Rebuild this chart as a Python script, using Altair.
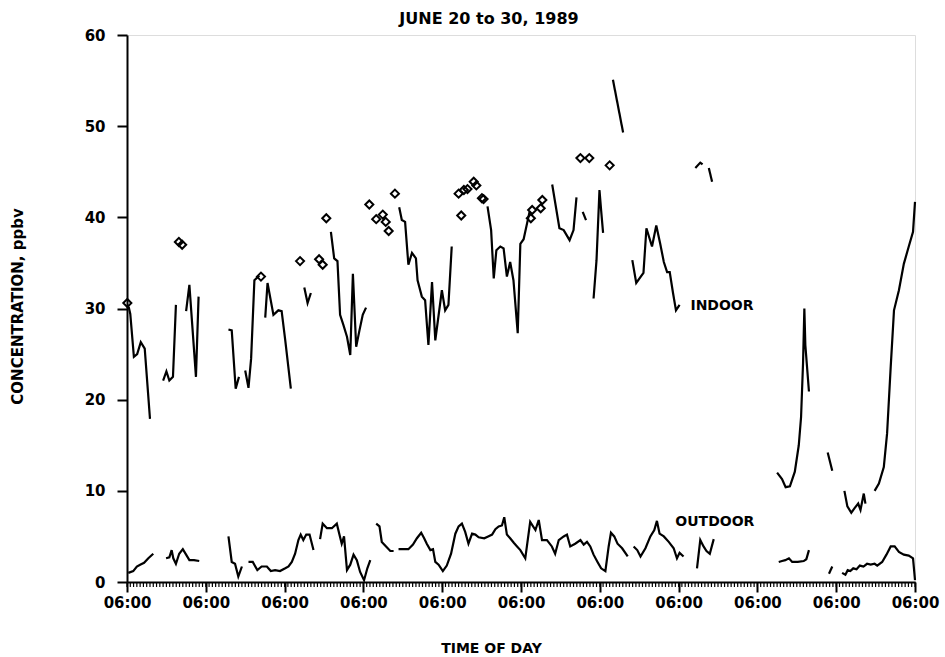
import altair as alt
import pandas as pd

# Hours after 06:00 on June 20, 1989; None marks a gap in the record
indoor_hours = [
    0.5, 1.0, 2.1, 3.1, 4.2, 5.4, 7.0, None,
    11.0, 12.0, 12.9, 14.0, 14.9, None,
    18.0, 19.0, 21.0, 21.8, None,
    30.9, 31.9, 33.1, 34.1, None,
    36.0, 37.0, 37.8, 38.8, 40.3, None,
    42.1, 42.8, 44.6, 46.1, 47.1, 48.2, 49.9, None,
    54.0, 55.0, 56.0, None,
    62.1, 63.1, 64.1, 64.9, 65.9, 67.0, 68.0, 68.8, 69.8, 70.8, 71.8, 72.8, None,
    82.9, 83.7, 84.7, 85.7, 86.8, 88.0, 88.5, 89.8, 90.8, 91.8, 92.9, 93.9, 95.9, 96.9, 97.9, 98.9, None,
    109.8, 110.9, 111.7, 112.5, 113.7, 114.7, 115.7, 116.7, 117.7, 119.0, 119.8, 120.8, 122.6, None,
    129.5, 131.7, 133.0, 134.8, 136.0, 136.9, None,
    138.8, 139.8, None,
    142.1, 143.0, 143.9, 144.4, 145.0, None,
    148.0, 151.1, None,
    153.9, 155.1, 157.3, 158.2, 159.9, 161.2, 162.4, 163.5, 164.5, 165.3, 166.3, 167.2, 168.3, None,
    173.1, 174.6, 175.3, None,
    177.2, 178.2, None,
    198.0, 199.5, 200.6, 201.9, 203.4, 204.6, 205.3, 205.9, 206.3, 206.6, 207.7, None,
    213.4, 214.8, None,
    218.5, 219.4, 220.6, 221.6, 222.7, 223.4, 224.4, 224.9, None,
    227.7, 229.0, 230.5, 231.5, 232.6, 233.6, 235.1, 236.6, 238.1, 239.4, 240.0,
]
indoor_ppbv = [
    30.2, 29.4, 24.7, 25.0, 26.3, 25.6, 17.9, None,
    22.1, 23.1, 22.1, 22.5, 30.4, None,
    29.7, 32.6, 22.5, 31.3, None,
    27.7, 27.6, 21.2, 22.5, None,
    23.2, 21.3, 24.5, 33.1, 33.6, None,
    29.0, 32.8, 29.3, 29.8, 29.7, 26.5, 21.2, None,
    32.3, 30.6, 31.7, None,
    38.4, 35.5, 35.2, 29.3, 28.2, 26.9, 24.9, 33.8, 25.8, 27.6, 29.3, 30.1, None,
    41.1, 39.7, 39.5, 34.8, 36.1, 35.5, 33.1, 31.3, 30.9, 26.0, 32.9, 26.5, 32.0, 29.8, 30.4, 36.8, None,
    41.2, 38.6, 33.3, 36.4, 36.8, 36.6, 33.5, 35.1, 33.1, 27.3, 37.1, 37.6, 40.6, None,
    43.6, 38.8, 38.6, 37.5, 38.6, 42.2, None,
    40.6, 39.7, None,
    31.1, 35.3, 43.0, 40.8, 38.3, None,
    55.1, 49.3, None,
    35.3, 32.8, 33.9, 38.8, 36.8, 39.1, 37.1, 35.1, 34.0, 34.0, 31.7, 29.8, 30.4, None,
    45.4, 46.0, 45.8, None,
    45.4, 43.9, None,
    12.0, 11.3, 10.4, 10.5, 12.1, 15.0, 18.1, 24.0, 30.0, 26.0, 20.9, None,
    14.2, 12.2, None,
    10.0, 8.3, 7.6, 8.1, 8.6, 7.9, 9.7, 8.6, None,
    10.0, 10.8, 12.6, 16.3, 23.6, 29.8, 32.0, 34.9, 36.8, 38.4, 41.7,
]

outdoor_hours = [
    0.4, 1.9, 3.0, 4.0, 5.2, 6.5, 8.0, None,
    11.9, 12.9, 13.6, 14.1, 14.9, 15.9, 17.0, 18.0, 19.0, 20.4, 22.0, None,
    30.9, 31.9, 32.9, 33.9, 35.0, None,
    37.0, 38.3, 39.7, 41.0, 42.6, 43.8, 45.1, 46.6, 48.2, 49.2, 50.2, 51.2, 52.2, 52.9, 53.7, 54.6, 55.6, 56.8, None,
    58.8, 59.6, 60.9, 62.4, 63.9, 64.7, 65.4, 66.1, 67.0, 68.0, 69.0, 70.0, 71.0, 72.2, 73.2, 74.1, None,
    75.9, 76.9, 77.6, 78.9, 80.2, 81.2, None,
    82.7, 84.2, 85.7, 87.1, 88.3, 89.6, 90.5, 91.3, 92.4, 93.2, 93.9, 94.9, 96.2, 97.4, 98.7,
    100.0, 101.0, 102.0, 103.0, 104.0, 105.1, 106.1, 107.1, 108.8, 110.0, 111.2, 112.2, 113.2,
    114.2, 114.9, 115.7, 116.7, 117.8, 118.8, 119.8, 121.3, 122.8, 124.4, 125.4, 126.4, 127.9,
    129.4, 130.4, 131.5, 133.0, 134.0, 135.0, 136.5, 138.1, 139.1, 140.1, 141.1, 142.1, 143.3,
    144.4, 145.7, 146.7, 147.4, 148.4, 149.4, 150.8, 152.5, None,
    154.3, 155.4, 156.4, 157.9, 159.4, 160.6, 161.4, 162.2, 163.5, 165.0, 166.5, 167.5, 168.3, 169.5, None,
    173.6, 174.6, 175.6, 176.5, 177.5, 178.7, None,
    198.5, 199.5, 200.5, 201.6, 202.6, 204.3, 206.1, 206.9, 207.7, None,
    213.8, 214.8, None,
    217.8, 218.8, 219.5, 220.3, 221.2, 222.2, 223.2, 224.3, 225.4, 226.5, 227.7, 228.5, 230.0,
    231.3, 232.6, 233.8, 235.1, 236.6, 238.1, 239.4, 240.0,
]
outdoor_ppbv = [
    1.0, 1.2, 1.7, 1.9, 2.1, 2.6, 3.1, None,
    2.6, 2.7, 3.5, 2.6, 2.0, 3.1, 3.6, 3.0, 2.4, 2.4, 2.3, None,
    5.0, 2.2, 2.0, 0.6, 1.7, None,
    2.2, 2.2, 1.3, 1.7, 1.7, 1.2, 1.3, 1.2, 1.5, 1.7, 2.2, 3.1, 4.6, 5.2, 4.6, 5.2, 5.2, 3.5, None,
    4.7, 6.4, 5.9, 5.9, 6.4, 5.2, 4.2, 5.0, 1.3, 1.9, 3.0, 2.4, 1.1, 0.2, 1.5, 2.4, None,
    6.4, 6.1, 4.4, 3.9, 3.4, 3.4, None,
    3.6, 3.6, 3.6, 4.1, 4.8, 5.4, 4.8, 4.2, 3.5, 3.6, 2.2, 1.9, 1.2, 1.8, 3.1,
    5.3, 6.1, 6.4, 5.5, 4.2, 5.3, 5.2, 4.9, 4.8, 5.0, 5.2, 5.8, 6.1,
    6.2, 7.1, 5.2, 4.8, 4.3, 3.9, 3.5, 2.6, 6.6, 5.7, 6.8, 4.6, 4.6,
    3.9, 3.1, 4.6, 5.0, 5.2, 3.9, 4.2, 4.6, 4.1, 4.4, 3.9, 3.0, 2.2,
    1.5, 1.2, 3.9, 5.4, 5.0, 4.2, 3.7, 2.8, None,
    3.9, 3.5, 2.8, 3.7, 5.0, 5.7, 6.7, 5.3, 5.0, 4.4, 3.7, 2.6, 3.2, 2.8, None,
    1.5, 4.6, 3.9, 3.4, 3.1, 4.7, None,
    2.2, 2.3, 2.4, 2.6, 2.2, 2.2, 2.3, 2.5, 3.5, None,
    0.9, 1.7, None,
    1.0, 0.8, 1.3, 1.2, 1.5, 1.4, 1.8, 1.7, 2.0, 1.9, 2.0, 1.8, 2.2,
    3.0, 3.9, 3.9, 3.3, 3.0, 2.9, 2.6, 0.2,
]

# Open-diamond readings
diamond_hours = [0.1, 15.8, 16.8, 40.8, 52.7, 58.5, 59.6, 60.7, 73.8, 75.9, 77.9, 78.8, 79.7, 81.6,
                 101.0, 101.8, 102.6, 103.7, 105.6, 106.4, 108.1, 108.6, 123.0, 123.4, 126.0, 126.5,
                 138.1, 140.8, 147.0]
diamond_ppbv = [30.6, 37.3, 37.0, 33.5, 35.2, 35.4, 34.8, 39.9, 41.4, 39.8, 40.3, 39.5, 38.5, 42.6,
                42.6, 40.2, 43.0, 43.1, 43.9, 43.5, 42.1, 42.0, 39.9, 40.8, 41.0, 41.9,
                46.5, 46.5, 45.7]

label_text = ["INDOOR", "OUTDOOR"]
label_hours = [171.6, 167.0]
label_ppbv = [30.3, 6.6]

day_hours = list(range(0, 241, 24))      # 06:00 each day (labelled)
hour_ticks = list(range(0, 241))         # hourly minor ticks


def segments(hours, values, name):
    rows, seg = [], 0
    for h, v in zip(hours, values):
        if h is None:
            seg += 1
            continue
        rows.append({"h": h, "v": v, "seg": f"{name}{seg}"})
    return rows


line_df = pd.DataFrame(segments(indoor_hours, indoor_ppbv, "in")
                       + segments(outdoor_hours, outdoor_ppbv, "out"))
diamond_df = pd.DataFrame({"h": diamond_hours, "v": diamond_ppbv})
label_df = pd.DataFrame({"h": label_hours, "v": label_ppbv, "t": label_text})
hour_df = pd.DataFrame({"h": hour_ticks})

FONT = "DejaVu Sans"
H = 547

x_scale = alt.Scale(domain=[0, 240], nice=False, zero=False)
y_scale = alt.Scale(domain=[0, 60], nice=False)

x_axis = alt.Axis(
    values=day_hours, tickSize=10, tickWidth=2, tickColor="black",
    domainWidth=2, domainColor="black", grid=False,
    labelExpr="'06:00'",
    labelOverlap=False, labelFlush=False, labelPadding=3,
    labelFont=FONT, labelFontSize=15, labelFontWeight="bold", labelColor="black",
    title="TIME OF DAY", titleFont=FONT, titleFontSize=14, titleFontWeight="bold",
    titleColor="black", titleX=364, titleY=66, titleAlign="center", titleBaseline="middle",
)
y_axis = alt.Axis(
    values=[0, 10, 20, 30, 40, 50, 60], tickSize=10, tickWidth=2, tickColor="black",
    domainWidth=2, domainColor="black", grid=False, labelPadding=12,
    labelFont=FONT, labelFontSize=15, labelFontWeight="bold", labelColor="black",
    title="CONCENTRATION, ppbv", titleFont=FONT, titleFontSize=15, titleFontWeight="bold",
    titleColor="black", titleAngle=270, titleX=-110, titleY=271,
    titleAlign="center", titleBaseline="middle",
)

lines = alt.Chart(line_df).mark_line(color="black", strokeWidth=2.2).encode(
    x=alt.X("h:Q", scale=x_scale, axis=x_axis),
    y=alt.Y("v:Q", scale=y_scale, axis=y_axis),
    detail="seg:N",
)
diamonds = alt.Chart(diamond_df).mark_point(
    shape="diamond", filled=False, size=65, strokeWidth=2, color="black", opacity=1
).encode(x="h:Q", y="v:Q")
labels = alt.Chart(label_df).mark_text(
    align="left", baseline="middle", font=FONT, fontSize=14, fontWeight="bold", color="black"
).encode(x="h:Q", y="v:Q", text="t:N")
minor_ticks = alt.Chart(hour_df).mark_rule(color="black", strokeWidth=1.2).encode(
    x="h:Q", y=alt.value(H), y2=alt.value(H + 5)
)

chart = alt.layer(lines, diamonds, labels, minor_ticks).properties(
    width=788, height=H,
    autosize=alt.AutoSizeParams(type="none"),
    padding={"left": 127, "top": 35, "right": 30, "bottom": 75},
    title=alt.TitleParams("JUNE 20 to 30, 1989", font=FONT, fontSize=16, fontWeight="bold",
                          color="black", anchor="middle", frame="group", dx=-32, offset=1),
).configure_view(stroke="black", strokeWidth=1.5).configure(background="white")

chart.save("out.html", embed_options={"renderer": "svg", "actions": False})
